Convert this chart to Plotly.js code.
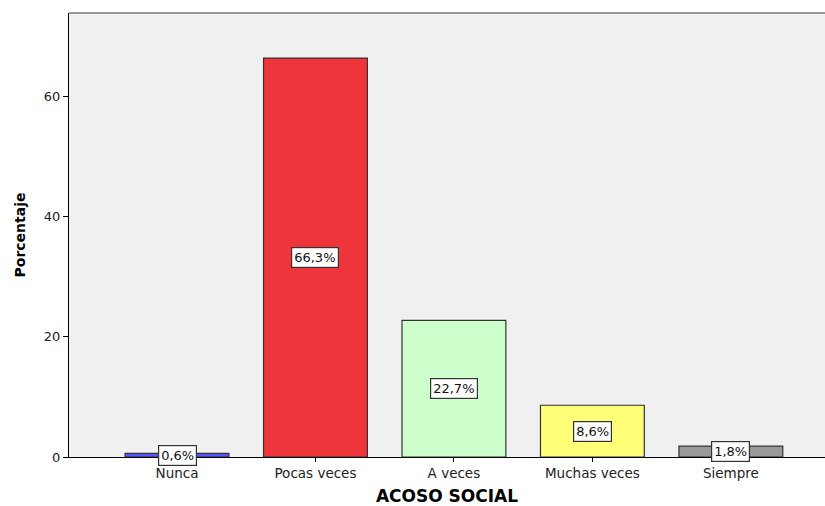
<!DOCTYPE html>
<html>
<head>
<meta charset="utf-8">
<script src="https://cdn.plot.ly/plotly-3.0.1.min.js"></script>
<style>html,body{margin:0;padding:0;background:#fff;}#chart{width:825px;height:506px;}</style>
</head>
<body>
<div id="chart"></div>
<script>
const categories = ["Nunca", "Pocas veces", "A veces", "Muchas veces", "Siempre"];
const percentages = [0.6, 66.3, 22.7, 8.6, 1.8];
const valueLabels = ["0,6%", "66,3%", "22,7%", "8,6%", "1,8%"];
const barColors = ["#5555ff", "#f0343c", "#ccffcc", "#ffff77", "#999999"];
const yTicks = [0, 20, 40, 60];

const FONT = "DejaVu Sans, Verdana, sans-serif";

const trace = {
  type: "bar",
  x: categories,
  y: percentages,
  width: 0.75,
  marker: { color: barColors, line: { color: "#333333", width: 1.2 } },
  hoverinfo: "skip"
};

const annotations = categories.map((c, i) => ({
  x: c, y: percentages[i] / 2, xref: "x", yref: "y",
  text: valueLabels[i], showarrow: false,
  font: { family: FONT, size: 13, color: "#111" },
  bgcolor: "#ffffff", bordercolor: "#333333", borderwidth: 1.2, borderpad: 2
}));

const layout = {
  width: 825, height: 506,
  margin: { l: 69, r: 0, t: 13, b: 49 },
  paper_bgcolor: "#ffffff",
  plot_bgcolor: "#f0f0f0",
  showlegend: false,
  font: { family: FONT, size: 13, color: "#222" },
  xaxis: {
    type: "category",
    range: [-0.78, 4.68],
    showline: true, linecolor: "#000", linewidth: 1,
    ticks: "outside", ticklen: 4, tickcolor: "#000",
    tickfont: { family: FONT, size: 13.5, color: "#222" },
    showgrid: false, zeroline: false,
    title: { text: "<b>ACOSO SOCIAL</b>", font: { family: FONT, size: 17, color: "#000" }, standoff: 9 }
  },
  yaxis: {
    range: [0, 73.8],
    tickvals: yTicks,
    showline: true, linecolor: "#000", linewidth: 1,
    ticks: "outside", ticklen: 5, tickcolor: "#000",
    tickfont: { family: FONT, size: 13, color: "#222" },
    showgrid: false, zeroline: false,
    title: { text: "<b>Porcentaje</b>", font: { family: FONT, size: 14, color: "#000" }, standoff: 14 }
  },
  shapes: [
    { type: "line", xref: "paper", yref: "paper", x0: 0, x1: 1, y0: 1, y1: 1, line: { color: "#777", width: 1.5 } }
  ],
  annotations: annotations
};

Plotly.newPlot("chart", [trace], layout, { displayModeBar: false, staticPlot: true });
</script>
</body>
</html>
